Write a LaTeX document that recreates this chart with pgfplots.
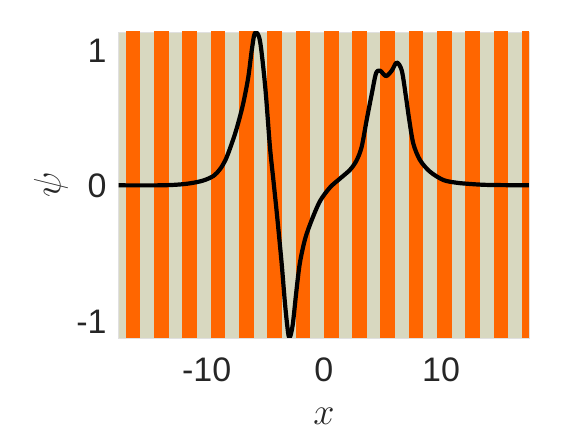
\RequirePackage{fix-cm}
\documentclass[border=0pt]{standalone}
\usepackage{fontspec}
\setmainfont{Liberation Sans}
\usepackage{pgfplots}
\pgfplotsset{compat=1.18}
\definecolor{stripeor}{RGB}{255,102,0}
\definecolor{stripebg}{RGB}{216,216,192}
\definecolor{txt}{RGB}{38,38,38}
\begin{document}
\begin{tikzpicture}
\path (-118.7pt,-100pt) rectangle (465.3pt,338pt);
\begin{axis}[
  at={(0pt,0pt)}, anchor=south west,
  scale only axis, width=410.3pt, height=306pt,
  xmin=-17.5, xmax=17.5, ymin=-1.12, ymax=1.135,
  axis background/.style={fill=stripebg},
  axis line style={draw=black!12, line width=0.4pt},
  major tick length=0pt,
  xtick={-10,0,10}, xticklabels={-10,0,10},
  ytick={-1,0,1}, yticklabels={-1,0,1},
  xticklabel style={font=\fontsize{34}{36}\selectfont, text=txt, anchor=north, inner sep=0pt, yshift=-20pt},
  yticklabel style={font=\fontsize{34}{36}\selectfont, text=txt, anchor=east, inner sep=0pt, xshift=-12pt},
  xlabel={$x$}, ylabel={$\psi$},
  every axis x label/.style={at={(axis description cs:0.5,0)}, anchor=center, inner sep=0pt, yshift=-78pt, font=\fontsize{38}{40}\selectfont, text=txt},
  every axis y label/.style={at={(axis description cs:0,0.5)}, xshift=-67.7pt, rotate=90, anchor=center, inner sep=0pt, font=\fontsize{38}{40}\selectfont, text=txt},
  stripe/.style={fill=stripeor, draw=none, forget plot},
]
\addplot[stripe] coordinates {(-16.898,-2)(-15.648,-2)(-15.648,2)(-16.898,2)} -- cycle;
\addplot[stripe] coordinates {(-14.484,-2)(-13.234,-2)(-13.234,2)(-14.484,2)} -- cycle;
\addplot[stripe] coordinates {(-12.070,-2)(-10.820,-2)(-10.820,2)(-12.070,2)} -- cycle;
\addplot[stripe] coordinates {(-9.656,-2)(-8.406,-2)(-8.406,2)(-9.656,2)} -- cycle;
\addplot[stripe] coordinates {(-7.242,-2)(-5.992,-2)(-5.992,2)(-7.242,2)} -- cycle;
\addplot[stripe] coordinates {(-4.828,-2)(-3.578,-2)(-3.578,2)(-4.828,2)} -- cycle;
\addplot[stripe] coordinates {(-2.414,-2)(-1.164,-2)(-1.164,2)(-2.414,2)} -- cycle;
\addplot[stripe] coordinates {(0,-2)(1.25,-2)(1.25,2)(0,2)} -- cycle;
\addplot[stripe] coordinates {(2.414,-2)(3.664,-2)(3.664,2)(2.414,2)} -- cycle;
\addplot[stripe] coordinates {(4.828,-2)(6.078,-2)(6.078,2)(4.828,2)} -- cycle;
\addplot[stripe] coordinates {(7.242,-2)(8.492,-2)(8.492,2)(7.242,2)} -- cycle;
\addplot[stripe] coordinates {(9.656,-2)(10.906,-2)(10.906,2)(9.656,2)} -- cycle;
\addplot[stripe] coordinates {(12.070,-2)(13.320,-2)(13.320,2)(12.070,2)} -- cycle;
\addplot[stripe] coordinates {(14.484,-2)(15.734,-2)(15.734,2)(14.484,2)} -- cycle;
\addplot[stripe] coordinates {(16.898,-2)(18.148,-2)(18.148,2)(16.898,2)} -- cycle;
\addplot[black, line width=4.2pt, smooth, line join=round] coordinates {
(-17.5,0.005) (-14,0.005) (-12.5,0.01) (-11.4,0.02) (-10.3,0.04) (-9.4,0.075)
(-8.85,0.125) (-8.4,0.19) (-7.95,0.29) (-7.45,0.42) (-6.9,0.60) (-6.45,0.80)
(-6.15,1.0) (-5.87,1.13) (-5.45,1.07) (-5.0,0.73) (-4.6,0.29) (-4.3,0.04)
(-4.0,-0.21) (-3.6,-0.57) (-3.3,-0.88) (-3.05,-1.08) (-2.9,-1.115) (-2.65,-1.02)
(-2.35,-0.78) (-2.05,-0.57) (-1.6,-0.39) (-1.03,-0.25) (-0.32,-0.11) (0.53,-0.01)
(1.38,0.055) (2.24,0.12) (2.8,0.19) (3.23,0.29) (3.66,0.49) (4.09,0.68)
(4.45,0.83) (4.8,0.85) (5.3,0.81) (5.79,0.85) (6.22,0.91) (6.65,0.85)
(7.0,0.66) (7.28,0.49) (7.64,0.31) (8.21,0.19) (9.06,0.105) (10.2,0.044)
(11.34,0.024) (12.5,0.015) (14,0.008) (17.5,0.005)
};
\end{axis}
\end{tikzpicture}
\end{document}
